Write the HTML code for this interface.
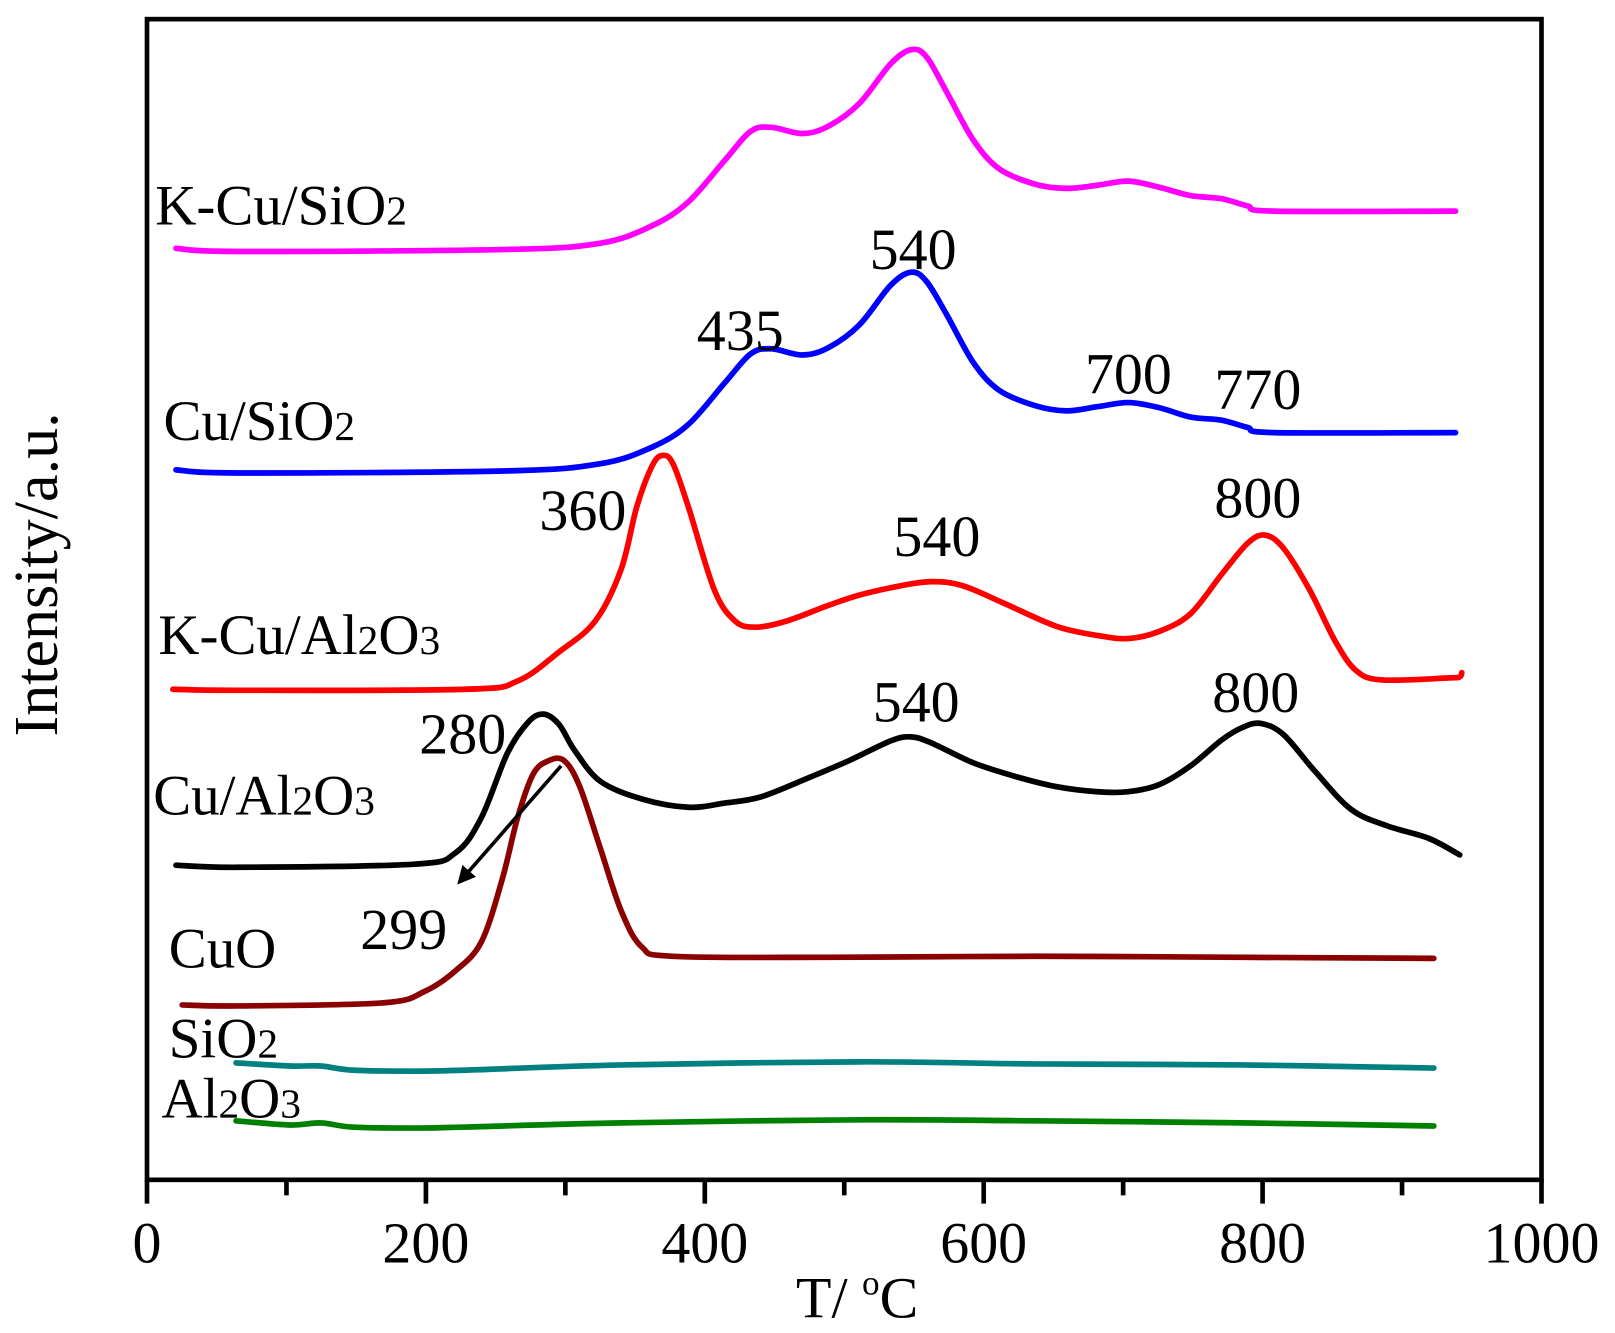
<!DOCTYPE html>
<html><head><meta charset="utf-8"><style>
html,body{margin:0;padding:0;background:#fff;}
svg{display:block;}
text{font-family:"Liberation Serif",serif;fill:#000;}
</style></head><body>
<svg id="s" width="1615" height="1333" viewBox="0 0 1560 1288" preserveAspectRatio="none" xmlns="http://www.w3.org/2000/svg">
<defs><marker id="ah" markerWidth="5" markerHeight="5" refX="4" refY="2.5" orient="auto" markerUnits="strokeWidth"><path d="M0,0 L5,2.5 L0,5 Z" fill="#000"/></marker></defs>
<rect x="142" y="18.5" width="1347" height="1121.5" fill="none" stroke="#000" stroke-width="4.5"/>
<g stroke="#000" stroke-width="4.5">
<line x1="142" y1="1140" x2="142" y2="1163"/>
<line x1="276.7" y1="1140" x2="276.7" y2="1155"/>
<line x1="411.4" y1="1140" x2="411.4" y2="1163"/>
<line x1="546.1" y1="1140" x2="546.1" y2="1155"/>
<line x1="680.8" y1="1140" x2="680.8" y2="1163"/>
<line x1="815.5" y1="1140" x2="815.5" y2="1155"/>
<line x1="950.2" y1="1140" x2="950.2" y2="1163"/>
<line x1="1084.9" y1="1140" x2="1084.9" y2="1155"/>
<line x1="1219.6" y1="1140" x2="1219.6" y2="1163"/>
<line x1="1354.3" y1="1140" x2="1354.3" y2="1155"/>
<line x1="1489" y1="1140" x2="1489" y2="1163"/>
</g>
<g font-size="56" text-anchor="middle">
<text x="142" y="1220">0</text><text x="411.4" y="1220">200</text><text x="680.8" y="1220">400</text>
<text x="950.2" y="1220">600</text><text x="1219.6" y="1220">800</text><text x="1489" y="1220">1000</text>
<text x="828" y="1273">T/ <tspan font-size="34" dy="-22">o</tspan><tspan dy="22">C</tspan></text>
</g>
<text font-size="60" text-anchor="middle" transform="translate(55,555) rotate(-90)">Intensity/a.u.</text>
<g id="curves" fill="none" stroke-width="5.5" stroke-linejoin="round" stroke-linecap="round">
<polyline stroke="#ff00ff" points="170,240 230,243 490,241 580,235 630,218 665,195 700,155 725,127 745,123 775,129 800,122 830,100 860,62 880,48 895,55 915,90 940,135 965,163 1000,178 1030,182 1060,179 1090,175 1120,181 1150,189 1180,192 1205,199 1230,204 1406,204"/>
<polyline stroke="#0000ff" points="170,454 230,457 490,455 580,448 630,432 665,410 700,370 725,342 745,337 775,343 800,336 830,314 860,276 880,263 895,272 915,305 940,350 965,377 1000,392 1030,397 1060,393 1090,389 1120,394 1150,403 1180,406 1205,413 1230,418 1406,418"/>
<polyline stroke="#ff0000" points="167,666 230,667 450,666 500,658 540,630 575,600 600,550 615,490 630,450 640,440 650,448 665,490 690,570 710,600 730,606 760,600 800,585 830,575 870,566 900,562 930,566 970,583 1020,605 1060,614 1090,617 1120,610 1150,593 1180,555 1205,525 1222,517 1240,530 1265,570 1290,620 1310,648 1335,657 1400,655 1410,654 1412,650"/>
<polyline stroke="#000000" points="170,836 230,838 400,835 440,824 465,790 490,728 510,698 525,690 540,700 555,725 580,755 620,772 665,780 700,776 735,770 780,752 820,735 860,716 880,712 900,718 940,737 980,750 1020,760 1060,765 1090,765 1120,758 1150,740 1180,715 1200,703 1218,699 1240,710 1270,745 1305,782 1340,798 1380,810 1410,826"/>
<polyline stroke="#8b0000" points="176,971 230,972 370,969 410,958 440,938 465,910 485,850 500,790 515,748 530,735 545,735 560,760 580,820 600,880 620,915 650,924 800,925 1000,924 1200,925 1385,926"/>
<polyline stroke="#008080" points="228,1027 280,1030 310,1030 340,1034 400,1035 450,1034 600,1029 830,1026 1000,1028 1200,1029 1385,1032"/>
<polyline stroke="#008000" points="228,1083 280,1087 310,1085 340,1089 400,1090 450,1089 600,1085 830,1082 1000,1083 1200,1085 1385,1088"/>
</g>
<line x1="542" y1="740" x2="444" y2="852" stroke="#000" stroke-width="3.5" marker-end="url(#ah)"/>
<g font-size="55">
<text x="150" y="217">K-Cu/SiO<tspan font-size="40">2</tspan></text>
<text x="158" y="425">Cu/SiO<tspan font-size="40">2</tspan></text>
<text x="153" y="632">K-Cu/Al<tspan font-size="40">2</tspan>O<tspan font-size="40">3</tspan></text>
<text x="148" y="787">Cu/Al<tspan font-size="40">2</tspan>O<tspan font-size="40">3</tspan></text>
<text x="163" y="935">CuO</text>
<text x="163" y="1022">SiO<tspan font-size="40">2</tspan></text>
<text x="156" y="1080">Al<tspan font-size="40">2</tspan>O<tspan font-size="40">3</tspan></text>
</g>
<g font-size="56" text-anchor="middle">
<text x="882" y="260">540</text><text x="715" y="338">435</text><text x="1090" y="380">700</text>
<text x="1215" y="395">770</text><text x="563" y="512">360</text><text x="905" y="537">540</text>
<text x="1215" y="500">800</text><text x="447" y="728">280</text><text x="885" y="697">540</text>
<text x="1213" y="688">800</text><text x="390" y="917">299</text>
</g>
</svg>
<script>
(function(){
var ns="http://www.w3.org/2000/svg";
var pls=document.querySelectorAll('#curves polyline');
for(var k=0;k<pls.length;k++){
var pl=pls[k];
var pts=pl.getAttribute('points').trim().split(/\s+/).map(function(s){var a=s.split(',');return [+a[0],+a[1]];});
var d='M'+pts[0][0]+','+pts[0][1];
for(var i=0;i<pts.length-1;i++){
var p0=pts[i>0?i-1:0],p1=pts[i],p2=pts[i+1],p3=pts[i+2<pts.length?i+2:i+1];
var c1x=p1[0]+(p2[0]-p0[0])/6,c1y=p1[1]+(p2[1]-p0[1])/6;
var c2x=p2[0]-(p3[0]-p1[0])/6,c2y=p2[1]-(p3[1]-p1[1])/6;
d+=' C'+c1x+','+c1y+' '+c2x+','+c2y+' '+p2[0]+','+p2[1];
}
var path=document.createElementNS(ns,'path');
path.setAttribute('d',d);path.setAttribute('stroke',pl.getAttribute('stroke'));
pl.parentNode.replaceChild(path,pl);
}
})();
</script>
</body></html>
